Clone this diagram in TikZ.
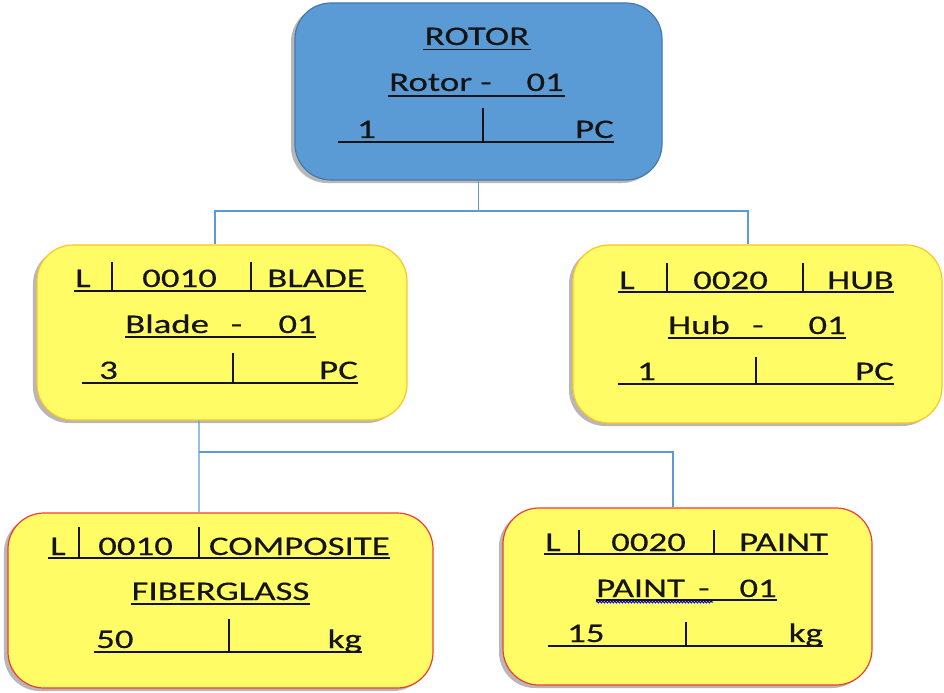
\documentclass[tikz,border=0pt]{standalone}
\usepackage{fontspec}
\setmainfont{Carlito}[FakeStretch=1.37, FakeBold=0.35]
\usetikzlibrary{shadows,decorations.pathmorphing}
\definecolor{rotorblue}{RGB}{91,155,213}
\definecolor{rotoredge}{RGB}{70,120,170}
\definecolor{partyellow}{RGB}{255,252,102}
\definecolor{partedge}{RGB}{255,196,40}
\definecolor{matedge}{RGB}{240,60,50}
\definecolor{linkblue}{RGB}{91,155,213}
\definecolor{ink}{RGB}{20,20,20}
\begin{document}
\begin{tikzpicture}[x=1bp, y=-1bp,
  box/.style={rounded corners=36bp, inner sep=0pt, line width=1.2bp,
    drop shadow={shadow xshift=-4bp, shadow yshift=-3bp, fill=black!40, opacity=.7}},
  assembly/.style={box, fill=rotorblue, draw=rotoredge},
  part/.style={box, fill=partyellow, draw=partedge},
  material/.style={box, fill=partyellow, draw=matedge},
  link/.style={draw=linkblue, line width=1.3bp},
  txt/.style={inner sep=0pt, text=ink, font=\fontsize{27}{32}\selectfont},
  rule/.style={draw=ink, line width=1.5bp}]
\useasboundingbox (0,0) rectangle (944,693);

% boxes
\node[assembly, minimum width=367bp, minimum height=177bp] (rotor) at (478.5,91.5) {};
\node[part, minimum width=370bp, minimum height=175bp] (blade) at (222,332.5) {};
\node[part, minimum width=369bp, minimum height=178bp] (hub) at (757.5,334) {};
\node[material, minimum width=425bp, minimum height=175bp] (composite) at (220.5,600.5) {};
\node[material, minimum width=369bp, minimum height=177bp] (paint) at (687.5,596.5) {};

% tree connectors
\coordinate (busTop) at (478.5,211);
\coordinate (busMid) at (199,452);
\draw[link] (rotor.south) -- (busTop);
\draw[link] (busTop) -| ([xshift=-7bp]blade.north);
\draw[link] (busTop) -| ([xshift=-9.5bp]hub.north);
\draw[link] ([xshift=-23bp]blade.south) -- (busMid);
\draw[link] (busMid) -- ([xshift=-21.5bp]composite.north);
\draw[link] (busMid) -| ([xshift=-14.5bp]paint.north);

% ROTOR
\node[txt, anchor=base] (rotorT) at (477,45) {ROTOR};
\draw[rule] (423,49.5) -- (531,49.5);
\node[txt, anchor=base west] (rotorN) at (389,91) {Rotor -};
\node[txt, anchor=base east] (rotorV) at (564,91) {01};
\draw[rule] (388,96) -- (565,96);
\node[txt, anchor=base west] (rotorQ) at (357,138) {1};
\node[txt, anchor=base east] (rotorU) at (614,138) {PC};
\draw[rule] (338,142) -- (614,142);
\draw[rule] (483,108) -- (483,142);

% BLADE
\node[txt, anchor=base west] (bladeL) at (75,287) {L};
\node[txt, anchor=base west] (bladeI) at (142,287) {0010};
\node[txt, anchor=base east] (bladeD) at (365,287) {BLADE};
\draw[rule] (74,291) -- (366,291);
\draw[rule] (112,262) -- (112,291);
\draw[rule] (251,262) -- (251,291);
\node[txt, anchor=base west] (bladeN) at (125,333) {Blade};
\node[txt, anchor=base] (bladeH) at (236.5,333) {-};
\node[txt, anchor=base east] (bladeV) at (316,333) {01};
\draw[rule] (125,337) -- (316,337);
\node[txt, anchor=base west] (bladeQ) at (99,379) {3};
\node[txt, anchor=base east] (bladeU) at (358,379) {PC};
\draw[rule] (82,383) -- (358,383);
\draw[rule] (233,353) -- (233,383);

% HUB
\node[txt, anchor=base west] (hubL) at (619,289) {L};
\node[txt, anchor=base west] (hubI) at (693,289) {0020};
\node[txt, anchor=base east] (hubD) at (894,289) {HUB};
\draw[rule] (618,292) -- (894,292);
\draw[rule] (667,263) -- (667,292);
\draw[rule] (803,263) -- (803,292);
\node[txt, anchor=base west] (hubN) at (668,334) {Hub};
\node[txt, anchor=base] (hubH) at (758,334) {-};
\node[txt, anchor=base east] (hubV) at (846,334) {01};
\draw[rule] (668,338) -- (846,338);
\node[txt, anchor=base west] (hubQ) at (637,380) {1};
\node[txt, anchor=base east] (hubU) at (894,380) {PC};
\draw[rule] (618,384) -- (894,384);
\draw[rule] (756,357) -- (756,384);

% COMPOSITE FIBERGLASS
\node[txt, anchor=base west] (compL) at (50,555) {L};
\node[txt, anchor=base west] (compI) at (98,555) {0010};
\node[txt, anchor=base east] (compD) at (390,555) {COMPOSITE};
\draw[rule] (48,558) -- (390,558);
\draw[rule] (79,527) -- (79,558);
\draw[rule] (199,527) -- (199,558);
\node[txt, anchor=base] (compN) at (220.5,600) {FIBERGLASS};
\draw[rule] (131,604) -- (310,604);
\node[txt, anchor=base west] (compQ) at (96,648) {50};
\node[txt, anchor=base east] (compU) at (362,648) {kg};
\draw[rule] (94,652) -- (362,652);
\draw[rule] (229,619) -- (229,652);

% PAINT
\node[txt, anchor=base west] (paintL) at (545,551) {L};
\node[txt, anchor=base west] (paintI) at (611,551) {0020};
\node[txt, anchor=base east] (paintD) at (828,551) {PAINT};
\draw[rule] (544,554) -- (828,554);
\draw[rule] (579,530) -- (579,554);
\draw[rule] (714,530) -- (714,554);
\node[txt, anchor=base west] (paintN) at (596,597) {PAINT};
\node[txt, anchor=base] (paintH) at (704,597) {-};
\node[txt, anchor=base east] (paintV) at (777,597) {01};
\draw[rule] (596,600) -- (777,600);
\draw[draw=blue!85!black, line width=1bp, decorate,
  decoration={snake, amplitude=0.9bp, segment length=3bp}] (596,602) -- (713,602);
\node[txt, anchor=base west] (paintQ) at (567,642) {15};
\node[txt, anchor=base east] (paintU) at (823,642) {kg};
\draw[rule] (548,646) -- (823,646);
\draw[rule] (686,622) -- (686,646);
\end{tikzpicture}
\end{document}
